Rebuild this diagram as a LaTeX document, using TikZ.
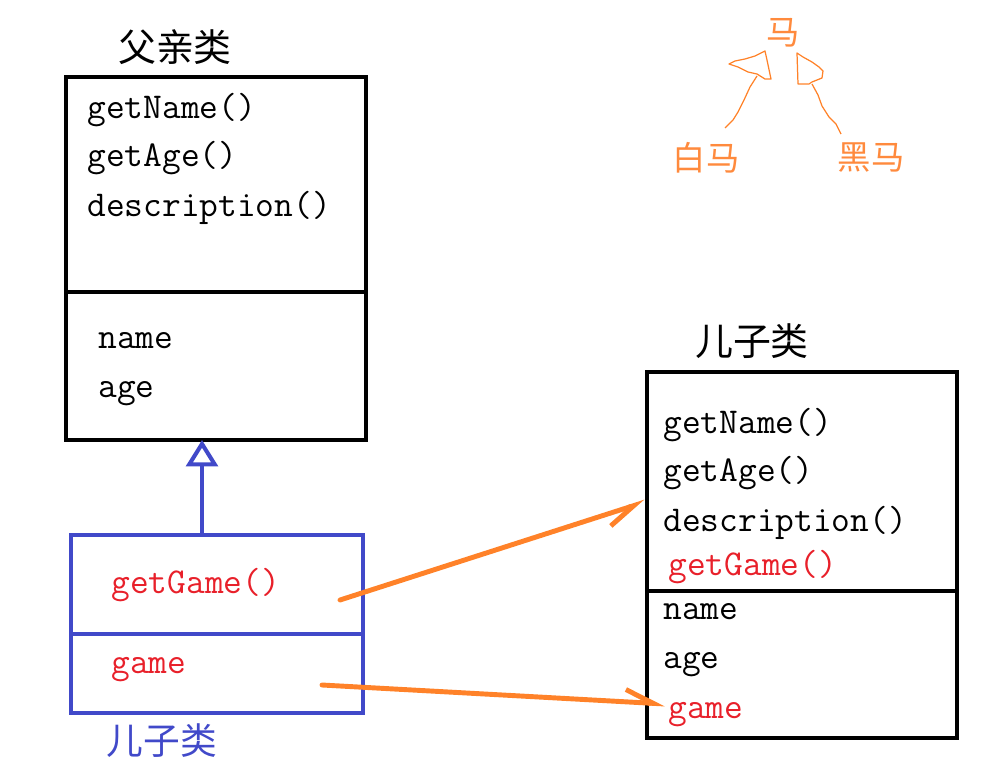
\documentclass[tikz,border=0pt]{standalone}
\usepackage{fontspec}
\newfontfamily\cjk{Noto Sans CJK SC}
\usetikzlibrary{arrows.meta}
\definecolor{umlblue}{HTML}{4149C9}
\definecolor{codered}{HTML}{E8202A}
\definecolor{penorange}{HTML}{FF8229}
\definecolor{txtorange}{HTML}{FF8A3D}
\tikzset{
  boxpart/.style={draw, rectangle, anchor=north west, inner sep=0pt, outer sep=0pt, line width=2.6pt},
  bluepart/.style={boxpart, draw=umlblue, line width=2.3pt},
  code/.style={anchor=base west, inner sep=0pt, font=\ttfamily\fontsize{20.7}{25}\selectfont},
  redcode/.style={code, text=codered},
  title/.style={inner sep=0pt, font=\cjk\fontsize{21.6}{26}\selectfont},
  horse/.style={inner sep=0pt, text=txtorange, font=\cjk\fontsize{19}{23}\selectfont},
  pen/.style={draw=penorange, line width=2.8pt, line cap=round},
  thinpen/.style={draw=penorange, line width=0.7pt, line join=round},
  inherit/.style={draw=umlblue, line width=2.3pt, -{Triangle[open, length=15pt, width=18pt, line width=2.3pt]}}
}
\begin{document}
\begin{tikzpicture}[x=0.02cm, y=-0.02cm]
\useasboundingbox (0,0) rectangle (998,761);
% father class
\node[title] (ftitle) at (175,47) {父亲类};
\node[boxpart, minimum width=6cm, minimum height=4.3cm] (fmeth) at (66,77) {};
\node[boxpart, minimum width=6cm, minimum height=2.96cm] (fattr) at (66,292) {};
\node[code] (f1) at (87,118) {getName()};
\node[code] (f2) at (87,166) {getAge()};
\node[code] (f3) at (87,216) {description()};
\node[code] (f4) at (98,348) {name};
\node[code] (f5) at (98,397) {age};
% child class (blue)
\node[bluepart, minimum width=5.84cm, minimum height=1.98cm] (cmeth) at (71,535) {};
\node[bluepart, minimum width=5.84cm, minimum height=1.58cm] (cattr) at (71,634) {};
\node[redcode] (c1) at (111,593) {getGame()};
\node[redcode] (c2) at (111,673) {game};
\node[title, text=umlblue, font=\cjk\fontsize{20.9}{25}\selectfont] (ctitle) at (162,741) {儿子类};
% inheritance
\coordinate (inhx) at (202,0);
\draw[inherit] (cmeth.north -| inhx) -- (fattr.south -| inhx);
% resulting child class
\node[title] (rtitle) at (752,341) {儿子类};
\node[boxpart, minimum width=6.2cm, minimum height=4.38cm] (rmeth) at (647,372) {};
\node[boxpart, minimum width=6.2cm, minimum height=2.94cm] (rattr) at (647,591) {};
\node[code] (r1) at (663,433) {getName()};
\node[code] (r2) at (663,481) {getAge()};
\node[code] (r3) at (663,531) {description()};
\node[redcode] (r4) at (668,575) {getGame()};
\node[code] (r5) at (663,619) {name};
\node[code] (r6) at (663,668) {age};
\node[redcode] (r7) at (668,718) {game};
% orange arrows
\coordinate (a1s) at (340,600);
\coordinate (a1e) at (645,502);
\coordinate (a2s) at (322,685);
\coordinate (a2e) at (665,704);
\draw[pen, -{Straight Barb[harpoon, swap, length=16pt, width=14pt, line width=2.8pt]}] (a1s) -- (a1e);
\draw[pen, -{Straight Barb[harpoon, length=16pt, width=14pt, line width=2.8pt]}] (a2s) -- (a2e);
% horse sketch
\node[horse] (ma) at (783,33) {马};
\node[horse] (baima) at (706,158) {白马};
\node[horse] (heima) at (871,158) {黑马};
\draw[thinpen] (765,51) -- (767,60) -- (771,79) -- (765,79) -- (757,74) -- (748,72) -- (738,67) -- (729,64) -- (735,61) -- (745,59) -- (755,56) -- cycle;
\draw[thinpen] (757,76) -- (750,87) -- (744,100) -- (738,112) -- (733,120) -- (725,128);
\draw[thinpen] (797,53) -- (803,57) -- (812,62) -- (819,67) -- (823,71) -- (822,78) -- (812,82) -- (809,84) -- (798,84) -- cycle;
\draw[thinpen] (812,84) -- (818,95) -- (822,106) -- (829,117) -- (836,124) -- (841,134);
\end{tikzpicture}
\end{document}
